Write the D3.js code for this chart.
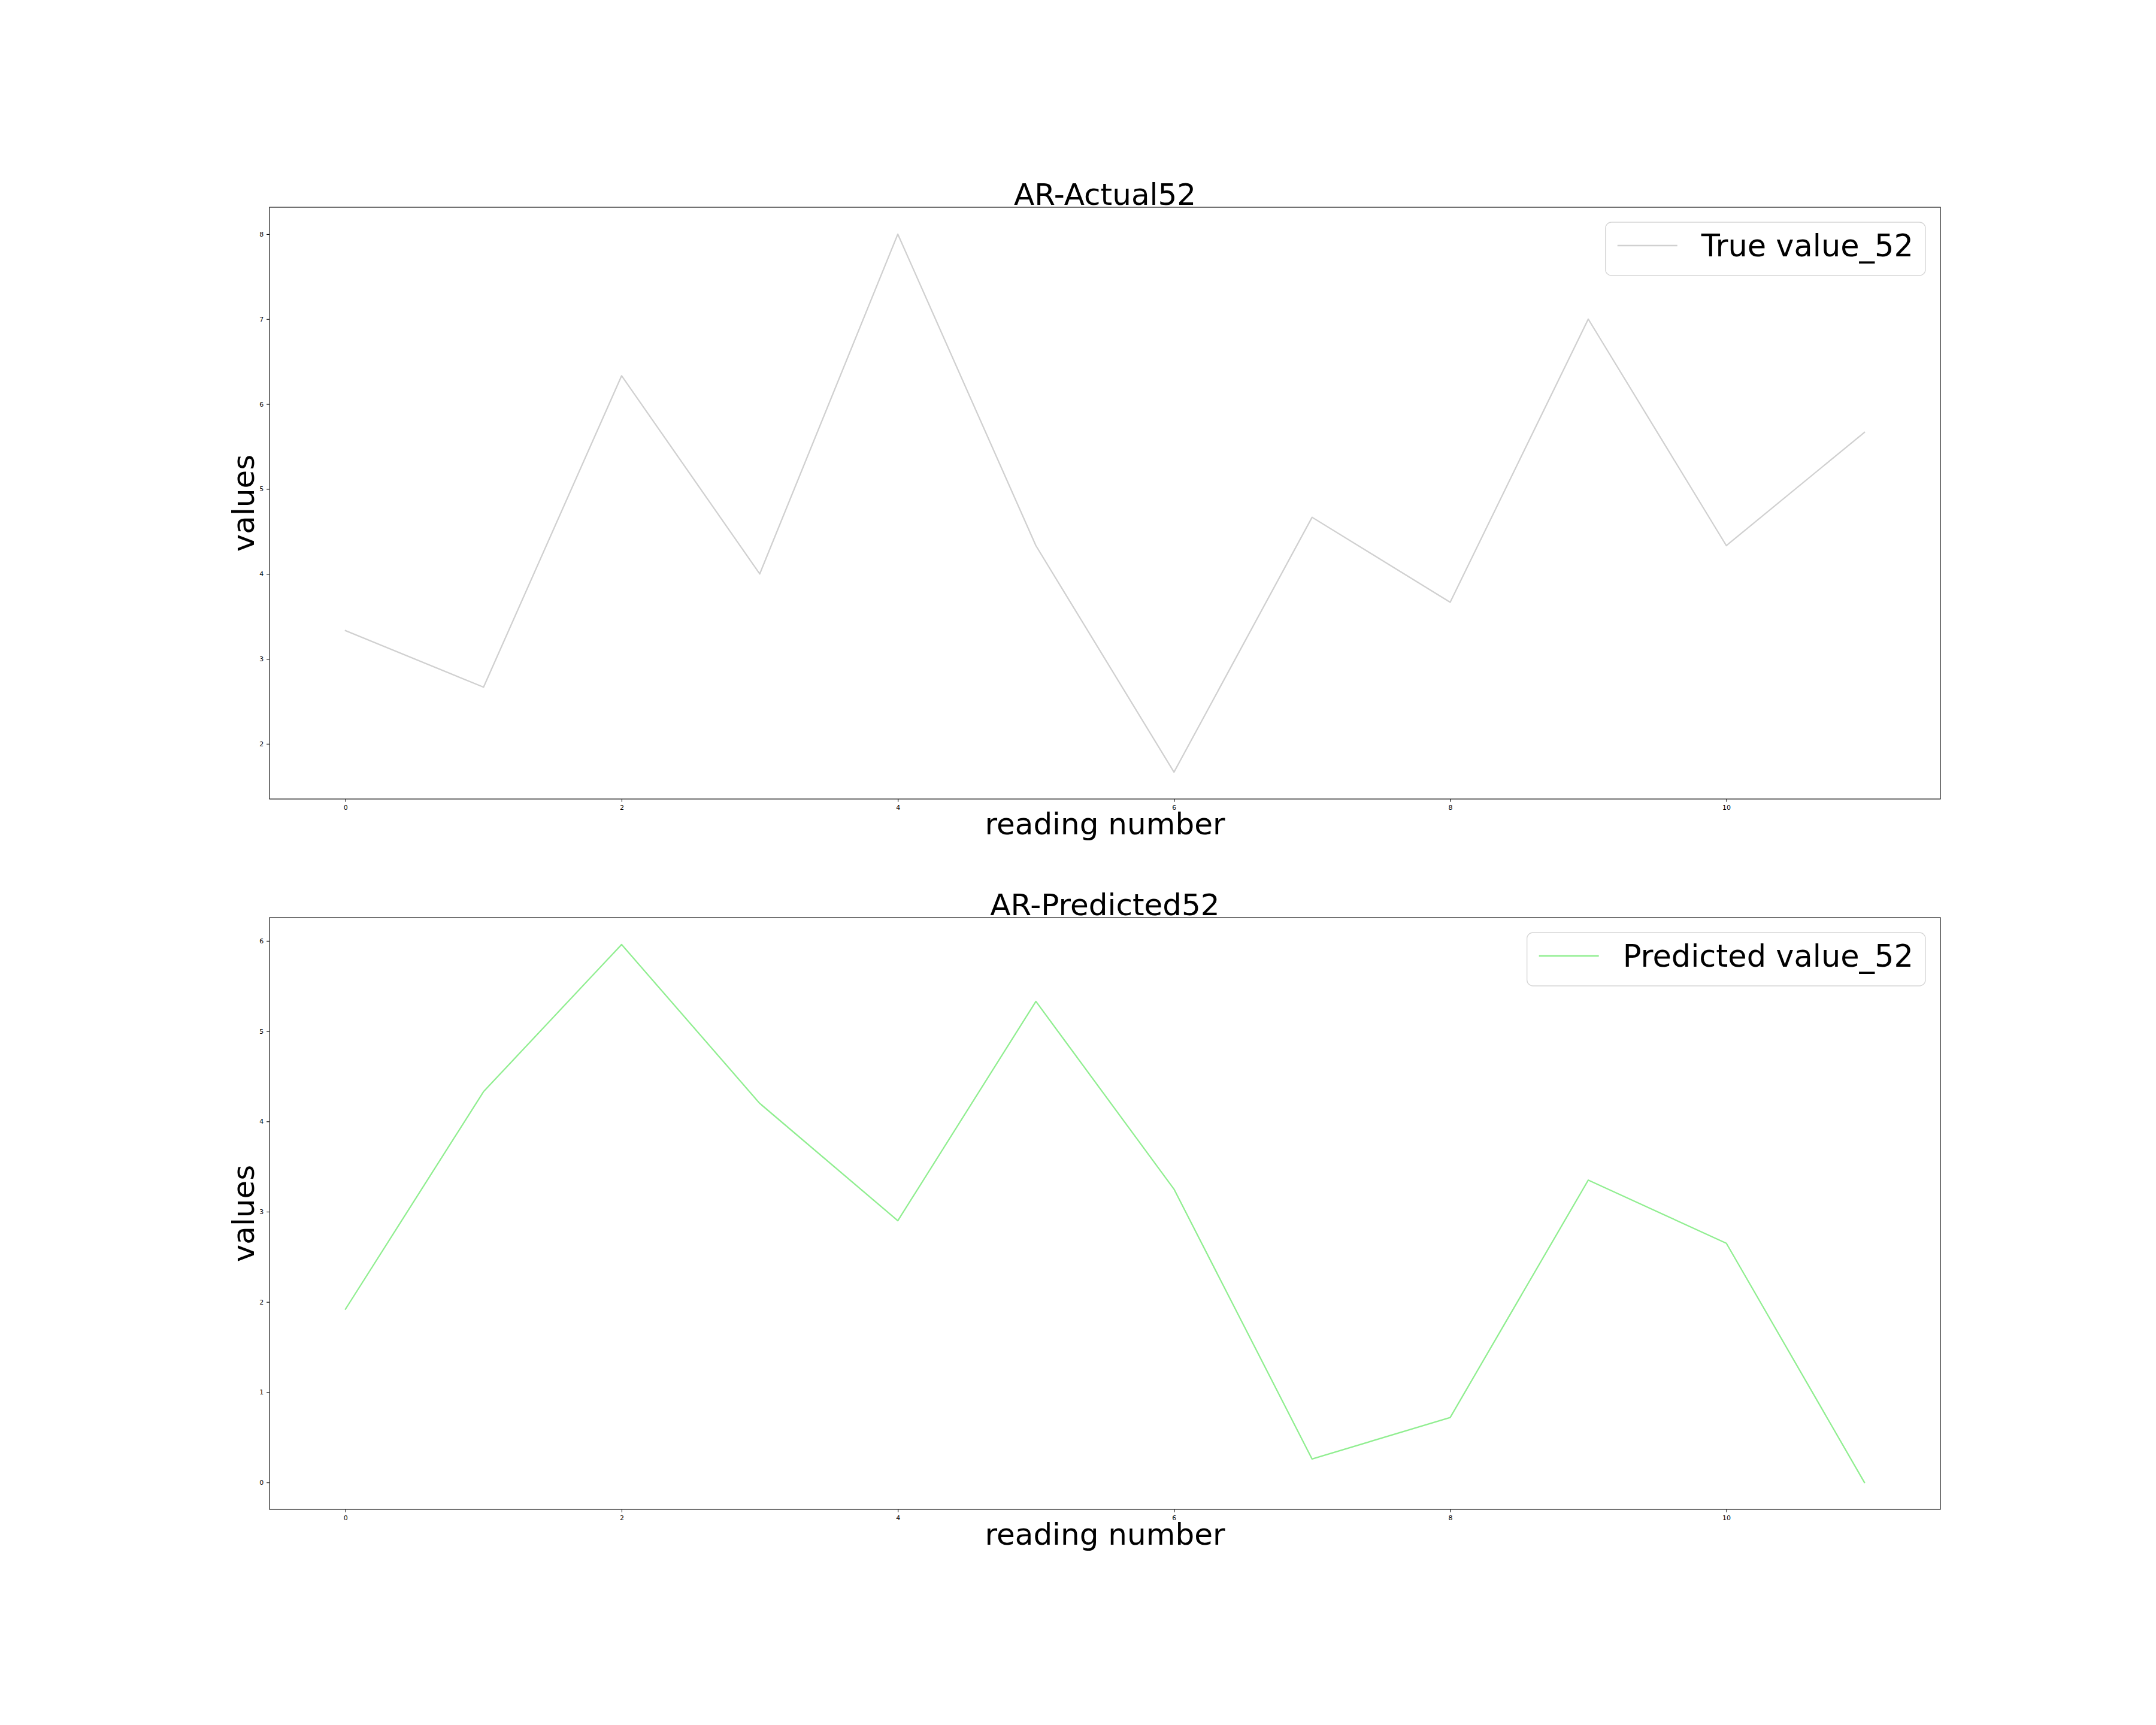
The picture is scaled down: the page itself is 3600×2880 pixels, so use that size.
<!DOCTYPE html>
<html>
<head>
<meta charset="utf-8">
<script src="https://cdn.jsdelivr.net/npm/d3@7"></script>
<style>
  html, body { margin: 0; padding: 0; background: #fff; }
  svg { display: block; }
  text { font-family: "DejaVu Sans", sans-serif; }
</style>
</head>
<body>
<svg id="chart" width="3600" height="2880"></svg>
<script>
// ---- data ----
const readings = [0, 1, 2, 3, 4, 5, 6, 7, 8, 9, 10, 11];
const trueValues = [3.333, 2.667, 6.333, 4.0, 8.0, 4.333, 1.667, 4.667, 3.667, 7.0, 4.333, 5.667];
const predictedValues = [1.92, 4.33, 5.96, 4.2, 2.9, 5.33, 3.25, 0.26, 0.72, 3.35, 2.65, 0.0];
const xTicks = [0, 2, 4, 6, 8, 10];
const yTicksTop = [2, 3, 4, 5, 6, 7, 8];
const yTicksBottom = [0, 1, 2, 3, 4, 5, 6];
const titles = ["AR-Actual52", "AR-Predicted52"];
const legendLabels = ["True value_52", "Predicted value_52"];
const xLabel = "reading number";
const yLabel = "values";

const svg = d3.select("#chart");
const W = 3600, H = 2880;
svg.append("rect").attr("width", W).attr("height", H).attr("fill", "#fff");

const left = 450, right = 3240;
const panels = [
  { top: 346, bottom: 1334, values: trueValues, yTicks: yTicksTop, color: "#d0d0d0", title: titles[0], label: legendLabels[0] },
  { top: 1532, bottom: 2520, values: predictedValues, yTicks: yTicksBottom, color: "#90ee90", title: titles[1], label: legendLabels[1] }
];

const FS = 50;       // label/title font size (36pt)
const LFS = 51;      // legend font size
const TFS = 11;      // tick label font size (8pt)
const TICK = 4.86;

panels.forEach(p => {
  const xmin = d3.min(readings), xmax = d3.max(readings);
  const xpad = (xmax - xmin) * 0.05;
  const x = d3.scaleLinear().domain([xmin - xpad, xmax + xpad]).range([left, right]);
  const ymin = d3.min(p.values), ymax = d3.max(p.values);
  const ypad = (ymax - ymin) * 0.05;
  const y = d3.scaleLinear().domain([ymin - ypad, ymax + ypad]).range([p.bottom, p.top]);

  const g = svg.append("g");

  // line
  const line = d3.line().x((d, i) => x(readings[i])).y(d => y(d));
  g.append("path").datum(p.values)
    .attr("d", line)
    .attr("fill", "none")
    .attr("stroke", p.color)
    .attr("stroke-width", 2.3)
    .attr("stroke-linejoin", "round")
    .attr("stroke-linecap", "square");

  // axes
  const xAxis = d3.axisBottom(x).tickValues(xTicks).tickSize(TICK).tickPadding(4.86).tickFormat(d3.format("d"));
  const yAxis = d3.axisLeft(y).tickValues(p.yTicks).tickSize(TICK).tickPadding(4.86).tickFormat(d3.format("d"));

  const gx = g.append("g").attr("transform", `translate(0,${p.bottom})`).call(xAxis);
  const gy = g.append("g").attr("transform", `translate(${left},0)`).call(yAxis);
  [gx, gy].forEach(ax => {
    ax.select(".domain").remove();
    ax.selectAll(".tick line").attr("stroke", "#000").attr("stroke-width", 1.1);
    ax.selectAll(".tick text").attr("font-size", TFS).attr("font-family", "DejaVu Sans").attr("fill", "#000");
  });

  // frame (spines)
  g.append("rect")
    .attr("x", left).attr("y", p.top)
    .attr("width", right - left).attr("height", p.bottom - p.top)
    .attr("fill", "none").attr("stroke", "#000").attr("stroke-width", 1.1);

  // title
  g.append("text")
    .attr("x", (left + right) / 2).attr("y", p.top - 4)
    .attr("text-anchor", "middle").attr("font-size", FS).attr("fill", "#000")
    .text(p.title);

  // x label
  g.append("text")
    .attr("x", (left + right) / 2).attr("y", p.bottom + 59)
    .attr("text-anchor", "middle").attr("font-size", FS).attr("fill", "#000")
    .text(xLabel);

  // y label
  g.append("text")
    .attr("transform", `translate(424,${(p.top + p.bottom) / 2}) rotate(-90)`)
    .attr("text-anchor", "middle").attr("font-size", FS).attr("fill", "#000")
    .text(yLabel);

  // legend
  const lg = g.append("g");
  const box = lg.append("rect");
  const txt = lg.append("text").attr("font-size", LFS).attr("fill", "#000").text(p.label);
  const tw = txt.node().getComputedTextLength();
  const bw = 20 + 100 + 40 + tw + 20;
  const bh = 89;
  const bx = right - 25 - bw, by = p.top + 25;
  box.attr("x", bx).attr("y", by).attr("width", bw).attr("height", bh)
    .attr("rx", 10).attr("ry", 10)
    .attr("fill", "rgba(255,255,255,0.8)").attr("stroke", "#d6d6d6").attr("stroke-width", 1.4);
  lg.append("line")
    .attr("x1", bx + 20).attr("x2", bx + 120)
    .attr("y1", by + 39).attr("y2", by + 39)
    .attr("stroke", p.color).attr("stroke-width", 2.3);
  txt.attr("x", bx + 160).attr("y", by + 57);
});
</script>
</body>
</html>
